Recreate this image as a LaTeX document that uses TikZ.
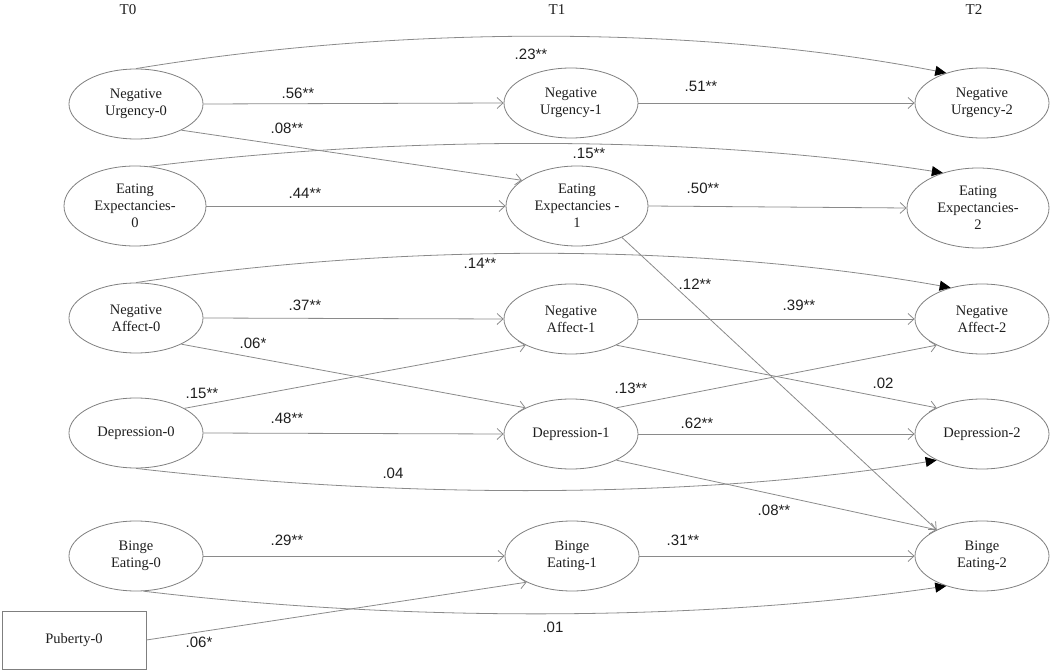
\documentclass[tikz,border=0pt]{standalone}
\usepackage{fontspec}
\setmainfont{Liberation Serif}
\newfontfamily\labfont{Liberation Sans}
\usetikzlibrary{shapes.geometric,arrows.meta}
\definecolor{ellgray}{HTML}{7F7F7F}
\definecolor{lngray}{HTML}{8A8A8A}
\definecolor{txt}{HTML}{1E1E1E}
\begin{document}
\begin{tikzpicture}[x=1pt,y=-1pt,
  lat/.style={ellipse, draw=ellgray, line width=0.8pt, minimum width=134pt, minimum height=70pt, inner sep=0pt, align=center, font=\fontsize{14.5}{17}\selectfont, text=txt},
  latbig/.style={lat, minimum width=142pt, minimum height=80pt},
  obsbox/.style={rectangle, draw=ellgray, line width=0.8pt, minimum width=144pt, minimum height=58pt, inner sep=0pt, font=\fontsize{14.5}{17}\selectfont, text=txt},
  pth/.style={draw=lngray, line width=0.8pt, -{Straight Barb[length=6pt,width=11pt]}},
  cpth/.style={draw=lngray, line width=0.8pt, -{Triangle[length=11pt,width=10pt,color=black,fill=black]}},
  coef/.style={font=\labfont\fontsize{15}{17}\selectfont, text=txt, inner sep=0pt},
  tlab/.style={font=\fontsize{15}{17}\selectfont, text=txt, inner sep=0pt},
]
\useasboundingbox (0,0) rectangle (1050,671);

% time labels
\node[tlab] (t0) at (128,10) {T0};
\node[tlab] (t1) at (557,10) {T1};
\node[tlab] (t2) at (974,10) {T2};

% latent nodes
\node[lat] (nu0) at (136,104) {Negative\\Urgency-0};
\node[lat] (nu1) at (571,103) {Negative\\Urgency-1};
\node[lat] (nu2) at (982,103) {Negative\\Urgency-2};
\node[latbig] (ee0) at (135,206) {Eating\\Expectancies-\\0};
\node[latbig] (ee1) at (577,206) {Eating\\Expectancies -\\1};
\node[latbig] (ee2) at (978,208) {Eating\\Expectancies-\\2};
\node[lat] (na0) at (136,318) {Negative\\Affect-0};
\node[lat] (na1) at (571,319) {Negative\\Affect-1};
\node[lat] (na2) at (982,319) {Negative\\Affect-2};
\node[lat] (dep0) at (136,433) {Depression-0};
\node[lat] (dep1) at (571,434) {Depression-1};
\node[lat] (dep2) at (982,434) {Depression-2};
\node[lat] (be0) at (136,556) {Binge\\Eating-0};
\node[lat] (be1) at (572,556) {Binge\\Eating-1};
\node[lat] (be2) at (982,556) {Binge\\Eating-2};
\node[obsbox] (pub) at (74,640) {Puberty-0};

% long curved paths T0 -> T2
\draw[cpth] (nu0.north) .. controls (400,25) and (700,25) .. (nu2.140);
\draw[cpth] (ee0.70) .. controls (400,135) and (700,135) .. (ee2.135);
\draw[cpth] (na0.north) .. controls (400,243) and (700,243) .. (na2.135);
\draw[cpth] (dep0.south) .. controls (400,499) and (700,499) .. (dep2.-150);
\draw[cpth] (be0.-78) .. controls (400,622) and (700,622) .. (be2.-140);

% autoregressive paths
\draw[pth] (nu0.east) -- (nu1.west);
\draw[pth] (nu1.east) -- (nu2.west);
\draw[pth] (ee0.east) -- (ee1.west);
\draw[pth] (ee1.east) -- (ee2.west);
\draw[pth] (na0.east) -- (na1.west);
\draw[pth] (na1.east) -- (na2.west);
\draw[pth] (dep0.east) -- (dep1.west);
\draw[pth] (dep1.east) -- (dep2.west);
\draw[pth] (be0.east) -- (be1.west);
\draw[pth] (be1.east) -- (be2.west);

% cross-lagged paths
\draw[pth] (nu0.-30) -- (ee1.155);
\draw[pth] (ee1.-35) -- (be2.150);
\draw[pth] (na0.-30) -- (dep1.150);
\draw[pth] (dep0.27) -- (na1.-150);
\draw[pth] (na1.-30) -- (dep2.150);
\draw[pth] (dep1.30) -- (na2.-150);
\draw[pth] (dep1.-30) -- (be2.150);
\draw[pth] (pub.east) -- (be1.-150);

% coefficients
\node[coef] (c1) at (531,54) {.23**};
\node[coef] (c2) at (298,93) {.56**};
\node[coef] (c3) at (701,86) {.51**};
\node[coef] (c4) at (287,128) {.08**};
\node[coef] (c5) at (589,153) {.15**};
\node[coef] (c6) at (305,193) {.44**};
\node[coef] (c7) at (703,188) {.50**};
\node[coef] (c8) at (480,263) {.14**};
\node[coef] (c9) at (695,284) {.12**};
\node[coef] (c10) at (305,305) {.37**};
\node[coef] (c11) at (799,305) {.39**};
\node[coef] (c12) at (253,343) {.06*};
\node[coef] (c13) at (202,393) {.15**};
\node[coef] (c14) at (631,388) {.13**};
\node[coef] (c15) at (883,383) {.02};
\node[coef] (c16) at (287,418) {.48**};
\node[coef] (c17) at (697,423) {.62**};
\node[coef] (c18) at (393,473) {.04};
\node[coef] (c19) at (774,510) {.08**};
\node[coef] (c20) at (287,540) {.29**};
\node[coef] (c21) at (683,540) {.31**};
\node[coef] (c22) at (199,642) {.06*};
\node[coef] (c23) at (553,627) {.01};
\end{tikzpicture}
\end{document}
